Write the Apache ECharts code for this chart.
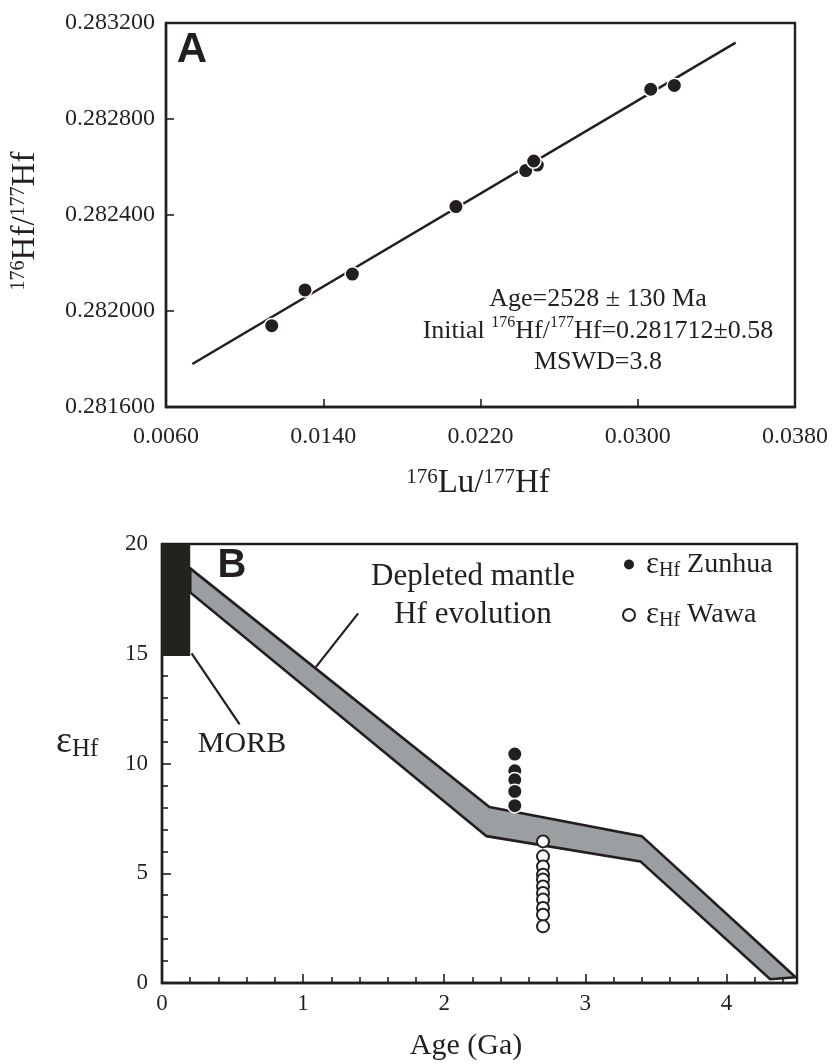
<!DOCTYPE html>
<html>
<head>
<meta charset="utf-8">
<script src="https://cdn.jsdelivr.net/npm/echarts@6.0.0/dist/echarts.min.js"></script>
<style>
html, body { margin: 0; padding: 0; background: #fff; }
#chart { width: 837px; height: 1064px; }
</style>
</head>
<body>
<div id="chart"></div>
<script>
// ---- panel A : Lu-Hf isochron ----
const luHf = [0.01138, 0.01307, 0.01548, 0.02075, 0.02489, 0.02430, 0.02471, 0.03066, 0.03186];
const hfHf = [0.281939, 0.282088, 0.282154, 0.282435, 0.282608, 0.282585, 0.282625, 0.282924, 0.282940];
const isoLineX = [0.00734, 0.03498];
const isoLineY = [0.281779, 0.283118];
const xTicksA = [0.006, 0.014, 0.022, 0.030, 0.038];
const yTicksA = [0.2816, 0.2820, 0.2824, 0.2828, 0.2832];

// ---- panel B : eHf vs age ----
const zunhuaAge = 2.50;
const zunhuaEps = [10.43, 9.67, 9.26, 8.73, 8.08];
const wawaAge = 2.70;
const wawaEps = [6.45, 5.77, 5.31, 4.93, 4.71, 4.40, 4.10, 3.80, 3.42, 3.11, 2.58];
const dmUpper = [[0.2, 18.89], [2.32, 8.02], [3.40, 6.69], [4.49, 0.26]];
const dmLower = [[0.2, 17.79], [2.30, 6.69], [3.39, 5.54], [4.31, 0.17]];
const morbBox = [[0, 20], [0.2, 14.9]];
const dmLeader = [[1.39, 16.84], [1.09, 14.39]];
const morbLeader = [[0.21, 15.02], [0.55, 11.78]];
const xTicksB = [0, 1, 2, 3, 4];
const xMinorB = [0.2, 0.4, 0.6, 0.8, 1.2, 1.4, 1.6, 1.8, 2.2, 2.4, 2.6, 2.8, 3.2, 3.4, 3.6, 3.8, 4.2, 4.4];

const ink = '#231f20';
const serif = 'Liberation Serif';
const sans = 'Liberation Sans';

const chart = echarts.init(document.getElementById('chart'));

const tickStyle = { color: ink, width: 1.6 };
const lineAxis = { show: true, onZero: false, lineStyle: { color: ink, width: 2.4 } };

const option = {
    animation: false,
    backgroundColor: '#fff',
    grid: [
        { left: 166, top: 23, width: 629, height: 384, show: true, borderColor: ink, borderWidth: 2.4, outerBoundsMode: 'none' },
        { left: 162, top: 544, width: 635, height: 439, show: true, borderColor: ink, borderWidth: 2.4, outerBoundsMode: 'none' }
    ],
    xAxis: [
        {
            gridIndex: 0, type: 'value', min: 0.006, max: 0.038,
            axisLine: lineAxis,
            axisTick: { show: true, inside: true, length: 8, customValues: xTicksA, lineStyle: tickStyle },
            axisLabel: { customValues: xTicksA, margin: 18, fontSize: 24, fontFamily: serif, color: ink,
                formatter: v => v.toFixed(4) },
            splitLine: { show: false }
        },
        {
            gridIndex: 1, type: 'value', min: 0, max: 4.5, position: 'bottom',
            axisLine: lineAxis,
            axisTick: { show: true, inside: true, length: 9, customValues: xTicksB, lineStyle: tickStyle },
            axisLabel: { customValues: xTicksB, margin: 9, fontSize: 23, fontFamily: serif, color: ink },
            splitLine: { show: false }
        },
        {
            // minor ticks of the age axis
            gridIndex: 1, type: 'value', min: 0, max: 4.5, position: 'bottom',
            axisLine: { show: false },
            axisTick: { show: true, inside: true, length: 6, customValues: xMinorB, lineStyle: tickStyle },
            axisLabel: { show: false },
            splitLine: { show: false }
        }
    ],
    yAxis: [
        {
            gridIndex: 0, type: 'value', min: 0.2816, max: 0.2832,
            axisLine: lineAxis,
            axisTick: { show: true, inside: true, length: 8, customValues: yTicksA, lineStyle: tickStyle },
            axisLabel: { customValues: yTicksA, margin: 11, fontSize: 24, fontFamily: serif, color: ink,
                formatter: v => v.toFixed(6) },
            splitLine: { show: false }
        },
        {
            gridIndex: 1, type: 'value', min: 0, max: 20, interval: 5,
            axisLine: lineAxis,
            axisTick: { show: true, inside: true, length: 9, lineStyle: tickStyle },
            minorTick: { show: true, splitNumber: 5, length: 6, lineStyle: tickStyle },
            axisLabel: { margin: 14, fontSize: 23, fontFamily: serif, color: ink },
            splitLine: { show: false },
            minorSplitLine: { show: false }
        }
    ],
    legend: {
        data: ['Zunhua', 'Wawa'],
        orient: 'vertical',
        left: 622, top: 549,
        padding: 0,
        itemWidth: 12, itemHeight: 12,
        itemGap: 19,
        icon: 'circle',
        selectedMode: false,
        formatter: name => `{e|ε}{s|Hf}{n| ${name}}`,
        textStyle: {
            color: ink,
            rich: {
                e: { fontSize: 31, fontFamily: serif, color: ink, lineHeight: 32, padding: [0, 0, 0, 6] },
                s: { fontSize: 20, fontFamily: serif, color: ink, lineHeight: 32, verticalAlign: 'bottom' },
                n: { fontSize: 28, fontFamily: serif, color: ink, lineHeight: 32 }
            }
        }
    },
    graphic: [
        { type: 'text', x: 192, y: 50, style: { text: 'A', font: 'bold 42px ' + sans, fill: ink, align: 'center', verticalAlign: 'middle' } },
        { type: 'text', x: 232, y: 566, style: { text: 'B', font: 'bold 40px ' + sans, fill: ink, align: 'center', verticalAlign: 'middle' } },
        {
            type: 'text', x: 25, y: 221, rotation: Math.PI / 2,
            style: {
                text: '{sup|176}{m|Hf/}{sup|177}{m|Hf}', align: 'center', verticalAlign: 'middle', fill: ink,
                rich: {
                    sup: { fontSize: 20, fontFamily: serif, fill: ink, lineHeight: 33, verticalAlign: 'top' },
                    m: { fontSize: 33, fontFamily: serif, fill: ink, lineHeight: 33 }
                }
            }
        },
        {
            type: 'text', x: 478, y: 483,
            style: {
                text: '{sup|176}{m|Lu/}{sup|177}{m|Hf}', align: 'center', verticalAlign: 'middle', fill: ink,
                rich: {
                    sup: { fontSize: 21, fontFamily: serif, fill: ink, lineHeight: 33, verticalAlign: 'top' },
                    m: { fontSize: 33, fontFamily: serif, fill: ink, lineHeight: 33 }
                }
            }
        },
        {
            type: 'text', x: 598, y: 331,
            style: {
                text: '{m|Age=2528 ± 130 Ma}\n{m|Initial }{sup|176}{m|Hf/}{sup|177}{m|Hf=0.281712±0.58}\n{m|MSWD=3.8}',
                align: 'center', verticalAlign: 'middle', fill: ink,
                rich: {
                    sup: { fontSize: 16, fontFamily: serif, fill: ink, lineHeight: 31.5, verticalAlign: 'top' },
                    m: { fontSize: 26, fontFamily: serif, fill: ink, lineHeight: 31.5 }
                }
            }
        },
        {
            type: 'text', x: 473, y: 596,
            style: { text: 'Depleted mantle\nHf evolution', align: 'center', verticalAlign: 'middle',
                fontSize: 31, fontFamily: serif, fill: ink, lineHeight: 38 }
        },
        {
            type: 'text', x: 242, y: 744,
            style: { text: 'MORB', align: 'center', verticalAlign: 'middle', fontSize: 30, fontFamily: serif, fill: ink }
        },
        {
            type: 'text', x: 56, y: 742,
            style: {
                text: '{e|ε}{s|Hf}', align: 'left', verticalAlign: 'middle', fill: ink,
                rich: {
                    e: { fontSize: 38, fontFamily: serif, fill: ink, lineHeight: 40 },
                    s: { fontSize: 25, fontFamily: serif, fill: ink, lineHeight: 40, verticalAlign: 'bottom' }
                }
            }
        },
        {
            type: 'text', x: 466, y: 1046,
            style: { text: 'Age (Ga)', align: 'center', verticalAlign: 'middle', fontSize: 30, fontFamily: serif, fill: ink }
        }
    ],
    series: [
        {
            type: 'line', xAxisIndex: 0, yAxisIndex: 0, z: 2,
            data: isoLineX.map((x, i) => [x, isoLineY[i]]),
            showSymbol: false, symbol: 'none',
            lineStyle: { color: ink, width: 2.5 }
        },
        {
            type: 'scatter', xAxisIndex: 0, yAxisIndex: 0, z: 3,
            data: luHf.map((x, i) => [x, hfHf[i]]),
            symbol: 'circle', symbolSize: 14.5,
            itemStyle: { color: ink, borderColor: '#fff', borderWidth: 1.5, opacity: 1 }
        },
        {
            type: 'custom', xAxisIndex: 1, yAxisIndex: 1, z: 2,
            data: [[0, 0]],
            renderItem: (params, api) => {
                const pts = dmUpper.concat(dmLower.slice().reverse()).map(p => api.coord(p));
                return {
                    type: 'polygon',
                    shape: { points: pts },
                    style: { fill: '#9b9fa1', stroke: ink, lineWidth: 2.6, lineJoin: 'miter' }
                };
            }
        },
        {
            type: 'custom', xAxisIndex: 1, yAxisIndex: 1, z: 4,
            data: [[0, 0]],
            renderItem: (params, api) => {
                const a = api.coord(morbBox[0]);
                const b = api.coord(morbBox[1]);
                return {
                    type: 'rect',
                    shape: { x: a[0], y: a[1], width: b[0] - a[0], height: b[1] - a[1] },
                    style: { fill: '#22231f' }
                };
            }
        },
        {
            type: 'line', xAxisIndex: 1, yAxisIndex: 1, z: 3,
            data: dmLeader, symbol: 'none', lineStyle: { color: ink, width: 2.2 }
        },
        {
            type: 'line', xAxisIndex: 1, yAxisIndex: 1, z: 3,
            data: morbLeader, symbol: 'none', lineStyle: { color: ink, width: 2.2 }
        },
        {
            name: 'Zunhua', type: 'scatter', xAxisIndex: 1, yAxisIndex: 1, z: 5,
            data: zunhuaEps.map(e => [zunhuaAge, e]),
            symbol: 'circle', symbolSize: 14.5,
            itemStyle: { color: ink, borderColor: '#fff', borderWidth: 1.5, opacity: 1 }
        },
        {
            name: 'Wawa', type: 'scatter', xAxisIndex: 1, yAxisIndex: 1, z: 5,
            data: wawaEps.map(e => [wawaAge, e]),
            symbol: 'circle', symbolSize: 12,
            itemStyle: { color: '#fff', borderColor: ink, borderWidth: 2, opacity: 1 }
        }
    ]
};

chart.setOption(option);
</script>
</body>
</html>
